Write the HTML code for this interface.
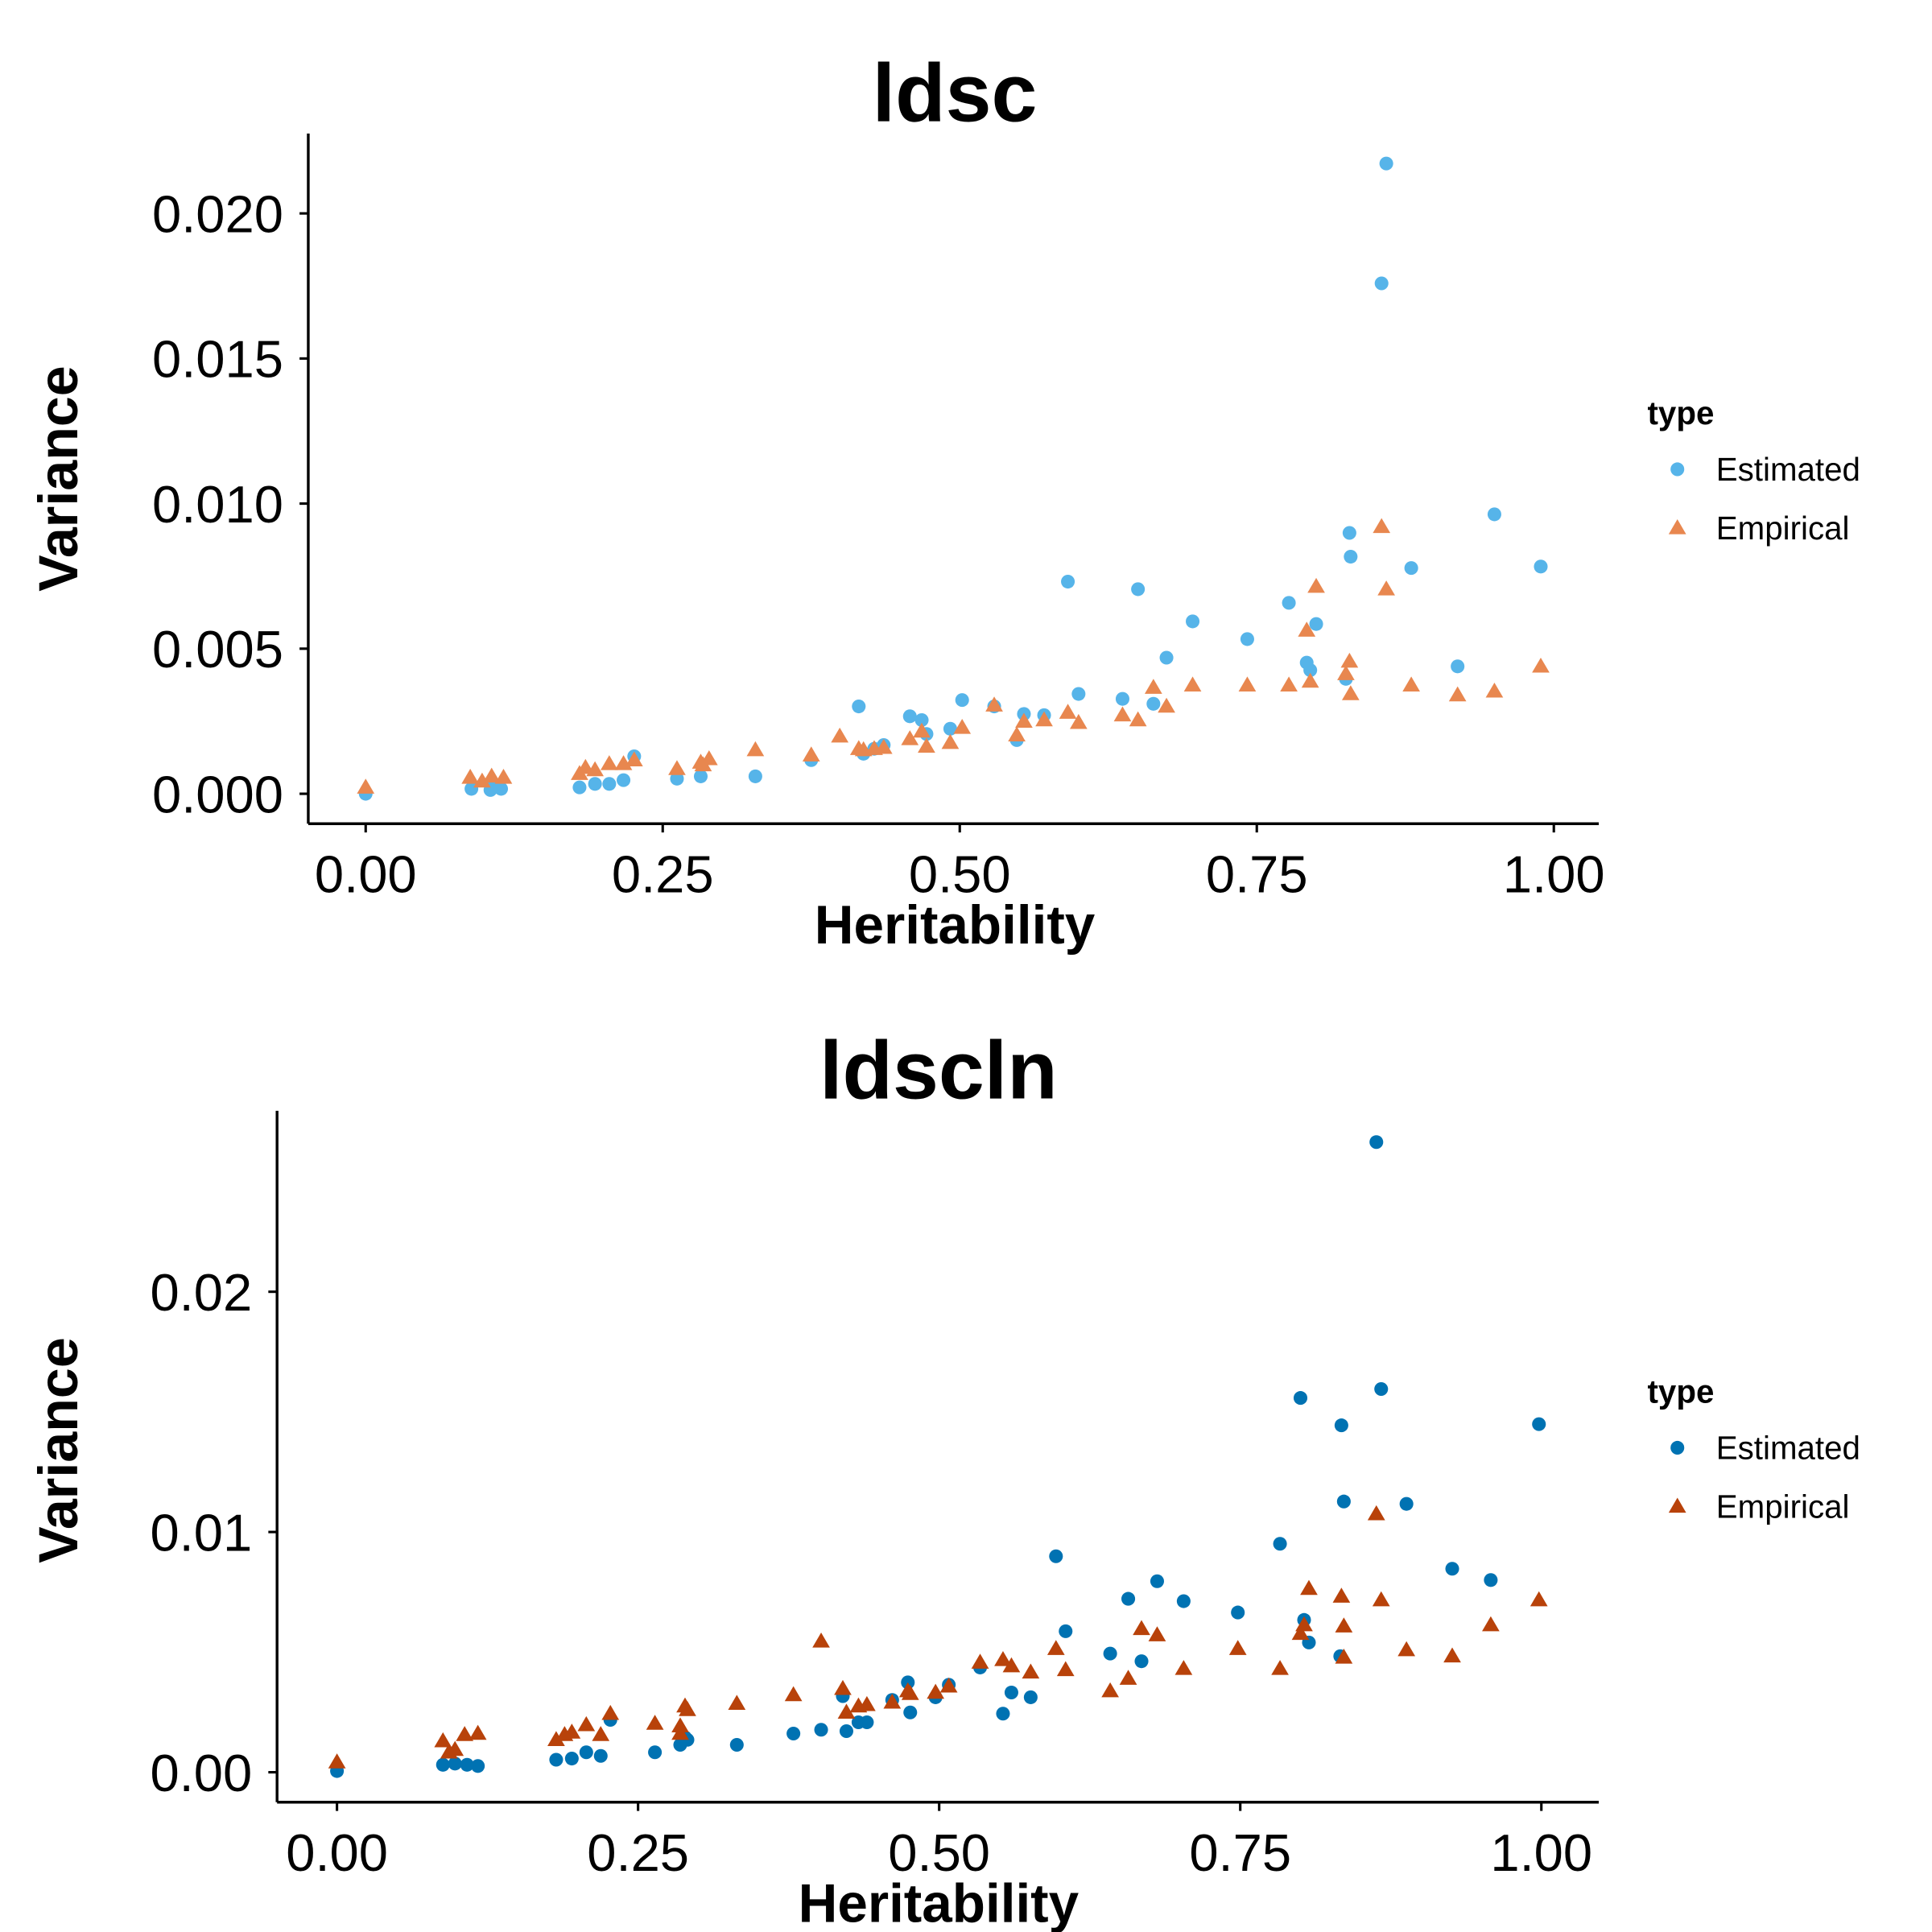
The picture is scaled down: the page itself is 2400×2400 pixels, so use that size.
<!DOCTYPE html>
<html><head><meta charset="utf-8"><style>
html,body{margin:0;padding:0;background:#fff}
svg{display:block;font-family:"Liberation Sans",Arial,sans-serif}
</style></head><body>
<svg id="chart" width="2400" height="2400" viewBox="0 0 1548 1548" xmlns="http://www.w3.org/2000/svg"></svg>
<script>
const topEstX=[0,.089,.105,.114,.107,.180,.193,.205,.217,.226,.262,.282,.328,.375,.415,.419,.428,.436,.458,.468,.472,.492,.502,.529,.548,.554,.571,.591,.600,.637,.650,.663,.674,.696,.742,.777,.792,.795,.800,.825,.828,.829,.855,.859,.880,.919,.950,.989];
const topEstY=[0,.00017,.00013,.00017,.00026,.00022,.00034,.00034,.00047,.00129,.00052,.0006,.0006,.00116,.00301,.00138,.00155,.00168,.00267,.00254,.00206,.00224,.00323,.00301,.00185,.00275,.00271,.00731,.00344,.00327,.00705,.0031,.00469,.00594,.00533,.00658,.00452,.00426,.00585,.00396,.00899,.00817,.01759,.02172,.00778,.00439,.00963,.00783];
const topEmpX=[0,.088,.098,.106,.116,.18,.185,.193,.205,.217,.226,.262,.282,.289,.284,.328,.375,.399,.415,.419,.428,.436,.458,.468,.472,.492,.502,.529,.548,.554,.571,.591,.600,.637,.650,.663,.674,.696,.742,.777,.792,.795,.800,.825,.828,.829,.855,.859,.880,.919,.950,.989];
const topEmpY=[.00022,.00056,.00043,.0006,.00056,.00069,.0009,.00082,.00103,.00103,.00116,.00086,.00108,.0012,.00099,.00151,.00133,.00198,.00155,.00151,.00155,.00159,.00189,.00215,.00163,.00176,.00228,.00305,.00202,.00249,.00254,.0028,.00245,.00271,.00254,.00366,.00301,.00374,.00374,.00374,.00563,.00387,.00714,.00413,.00456,.00344,.0092,.00705,.00374,.0034,.00353,.00439];
const botEstX=[0,.088,.098,.108,.117,.182,.195,.207,.219,.227,.264,.285,.289,.291,.332,.379,.402,.420,.423,.433,.440,.461,.474,.476,.497,.508,.534,.553,.560,.576,.597,.605,.642,.657,.668,.681,.703,.748,.783,.800,.803,.807,.834,.836,.833,.863,.867,.888,.926,.958,.998];
const botEstY=[.00005,.00031,.00036,.00031,.00026,.00052,.00057,.00083,.00068,.00218,.00083,.00114,.00145,.00135,.00114,.00161,.00177,.00317,.00171,.00208,.00208,.00301,.00374,.00249,.00312,.00364,.00436,.00244,.00332,.00312,.00899,.00587,.00494,.00722,.00462,.00795,.00712,.00665,.00951,.01558,.00634,.0054,.01444,.01127,.00483,.02623,.01595,.01117,.00847,.008,.01449];
const botEmpX=[0,.088,.093,.098,.106,.117,.182,.189,.195,.207,.219,.227,.264,.285,.289,.291,.285,.332,.379,.402,.420,.423,.433,.440,.461,.474,.476,.497,.508,.534,.553,.560,.576,.597,.605,.642,.657,.668,.681,.703,.748,.783,.800,.803,.807,.834,.836,.836,.863,.867,.888,.926,.958,.998];
const botEmpY=[.00042,.0013,.00083,.00094,.00156,.00161,.00135,.00156,.00166,.00197,.00156,.00244,.00203,.00192,.00275,.0026,.00161,.00286,.00322,.00545,.00348,.00249,.00275,.00281,.00291,.00338,.00327,.00332,.00358,.00457,.00468,.00442,.00416,.00514,.00426,.00338,.0039,.00597,.00571,.00431,.00514,.00431,.00577,.00613,.00764,.00732,.00608,.00478,.01075,.00717,.00509,.00483,.00613,.00717];
const xTicks=[0,.25,.5,.75,1];
const xTickLabels=["0.00","0.25","0.50","0.75","1.00"];
const topYTicks=[0,.005,.01,.015,.02];
const topYTickLabels=["0.000","0.005","0.010","0.015","0.020"];
const botYTicks=[0,.01,.02];
const botYTickLabels=["0.00","0.01","0.02"];

const NS="http://www.w3.org/2000/svg";
const svg=document.getElementById('chart');
function mk(tag,attrs,parent,text){const e=document.createElementNS(NS,tag);for(const k in attrs)e.setAttribute(k,attrs[k]);if(text!==undefined)e.textContent=text;(parent||svg).appendChild(e);return e;}

function panel(cfg){
  const g=mk('g',{});
  
  
  const sx=v=>cfg.x0+v*(cfg.x1-cfg.x0);
  const sy=v=>cfg.y0-v*cfg.ys;
  const t=mk('text',{x:cfg.cx,y:cfg.titleY,'text-anchor':'middle','font-size':66,'font-weight':'bold'},g,cfg.title);
  
  
  const ya=mk('line',{x1:cfg.ax,y1:cfg.top,x2:cfg.ax,y2:cfg.bot,stroke:'#000','stroke-width':2.2},g);
  
  
  const xa=mk('line',{x1:cfg.ax,y1:cfg.bot,x2:1281,y2:cfg.bot,stroke:'#000','stroke-width':2.2},g);
  
  
  xTicks.forEach((v,i)=>{
    const tk=mk('line',{x1:sx(v),y1:cfg.bot,x2:sx(v),y2:cfg.bot+7,stroke:'#000','stroke-width':2},g);
    
    
    const l=mk('text',{x:sx(v),y:cfg.bot+55,'text-anchor':'middle','font-size':42},g,xTickLabels[i]);
    
    
  });
  cfg.yt.forEach((v,i)=>{
    const tk=mk('line',{x1:cfg.ax-7,y1:sy(v),x2:cfg.ax,y2:sy(v),stroke:'#000','stroke-width':2},g);
    
    
    const l=mk('text',{x:cfg.ax-20,y:sy(v)+15,'text-anchor':'end','font-size':42},g,cfg.ytl[i]);
    
    
  });
  const xl=mk('text',{x:cfg.cx,y:cfg.bot+96,'text-anchor':'middle','font-size':43.5,'font-weight':'bold'},g,'Heritability');
  
  
  const yc=(cfg.top+cfg.bot)/2+(cfg.name==='ldsc'?0:-5);
  const yl=mk('text',{x:62,y:yc,'text-anchor':'middle','font-size':44,'font-weight':'bold',transform:`rotate(-90 62 ${yc})`},g,'Variance');
  
  
  cfg.estX.forEach((v,i)=>{
    const c=mk('circle',{cx:sx(v),cy:sy(cfg.estY[i]),r:5.5,fill:cfg.c1},g);
    
    
  });
  cfg.empX.forEach((v,i)=>{
    const x=sx(v),y=sy(cfg.empY[i]);
    const p=mk('polygon',{points:`${x},${y-7} ${x-7},${y+5} ${x+7},${y+5}`,fill:cfg.c2},g);
    
    
  });
  const lg=mk('g',{},g);
  
  
  const lt=mk('text',{x:1320,y:cfg.leg,'font-size':26,'font-weight':'bold'},lg,'type');
  
  
  mk('circle',{cx:1344,cy:cfg.leg+36,r:5.5,fill:cfg.c1},lg);
  const e1=mk('text',{x:1375,y:cfg.leg+45,'font-size':26},lg,'Estimated');
  
  
  const y2=cfg.leg+83;
  mk('polygon',{points:`1344,${y2-7} 1337,${y2+5} 1351,${y2+5}`,fill:cfg.c2},lg);
  const e2=mk('text',{x:1375,y:cfg.leg+92,'font-size':26},lg,'Empirical');
  
  
}
panel({name:'ldsc',title:'ldsc',cx:765,titleY:97,ax:247,top:107,bot:660,x0:293,x1:1245,y0:636,ys:23250,yt:topYTicks,ytl:topYTickLabels,estX:topEstX,estY:topEstY,empX:topEmpX,empY:topEmpY,c1:'#56B4E9',c2:'#E8874F',leg:340});
panel({name:'ldscln',title:'ldscln',cx:752,titleY:880,ax:222,top:890,bot:1444,x0:270,x1:1235,y0:1420,ys:19250,yt:botYTicks,ytl:botYTickLabels,estX:botEstX,estY:botEstY,empX:botEmpX,empY:botEmpY,c1:'#0072B2',c2:'#B8420A',leg:1124});
</script>
</body></html>
